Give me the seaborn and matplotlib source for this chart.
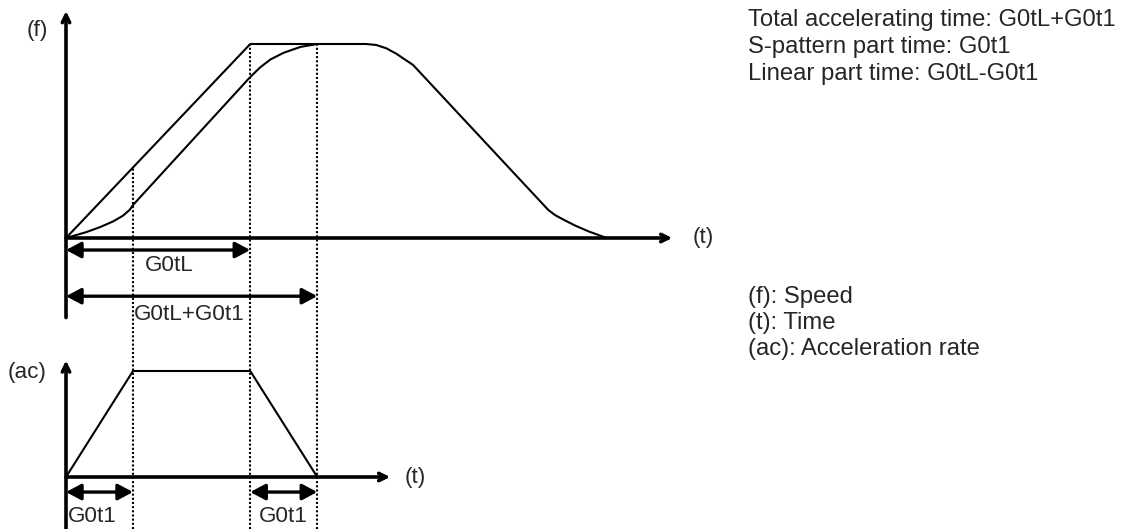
import matplotlib

matplotlib.use('Agg')
import matplotlib.pyplot as plt
import seaborn as sns

# time in units of G0t1, speed / acceleration normalised to 1
linear_t = [0.0, 2.75, 3.75]
linear_v = [0.0, 1.0, 1.0]

s_t = [0.0, 0.3, 0.5, 0.7, 0.85, 0.95, 1.0, 2.75, 2.9, 3.05, 3.25, 3.5, 3.75,
       4.48, 4.63, 4.78, 4.93, 5.08, 5.18, 7.2, 7.3, 7.45, 7.6, 7.8, 8.07]
s_v = [0.0, 0.03, 0.055, 0.085, 0.115, 0.145, 0.17, 0.83, 0.88, 0.92, 0.955, 0.985, 1.0,
       1.0, 0.995, 0.978, 0.95, 0.915, 0.892, 0.144, 0.118, 0.09, 0.064, 0.034, 0.0]

acc_t = [0.0, 1.0, 2.75, 3.75]
acc_v = [0.0, 1.0, 1.0, 0.0]

guide_t = [1.0, 2.75, 3.75]
guide_top = [0.365, 1.0, 1.0]

span_labels = ['G0tL', 'G0tL+G0t1']
span_ends = [2.75, 3.75]
s_part_spans = [(0.0, 1.0), (2.75, 3.75)]
s_part_label = 'G0t1'

notes_top = ['Total accelerating time: G0tL+G0t1',
             'S-pattern part time: G0t1',
             'Linear part time: G0tL-G0t1']
notes_bottom = ['(f): Speed', '(t): Time', '(ac): Acceleration rate']

sns.set_theme(style='white')
plt.rcParams['font.family'] = ['Liberation Sans', 'DejaVu Sans']

fig = plt.figure(figsize=(11.28, 5.29), dpi=100)
ax_f = fig.add_axes([0, 0, 1, 1])
ax_a = fig.add_axes([0, 0, 1, 1], sharex=ax_f)
for ax in (ax_f, ax_a):
    ax.set_axis_off()
    ax.patch.set_alpha(0)
ax_f.set_xlim(-66 / 67, 1062 / 67)
ax_f.set_ylim(-291 / 194, 238 / 194)
ax_a.set_ylim(-52 / 106, 477 / 106)

fs = 16.2
line_kw = dict(color='black', lw=1.5, sort=False, legend=False)
axis_kw = dict(arrowstyle='->,head_length=0.45,head_width=0.22', lw=2.6,
               color='black', shrinkA=0, shrinkB=0)
dim_kw = dict(arrowstyle='<|-|>,head_length=0.6,head_width=0.32', lw=2.4,
              color='black', shrinkA=0, shrinkB=0, mutation_scale=15)

# speed diagram
sns.lineplot(x=linear_t, y=linear_v, ax=ax_f, **line_kw)
sns.lineplot(x=s_t, y=s_v, ax=ax_f, **line_kw)
ax_f.annotate('', xy=(0, 1.17), xytext=(0, -0.41), arrowprops=axis_kw)
ax_f.annotate('', xy=(9.05, 0), xytext=(0, 0), arrowprops=axis_kw)
ax_f.text(-0.43, 1.07, '(f)', fontsize=fs, ha='center', va='center')
ax_f.text(9.35, 0, '(t)', fontsize=fs, ha='left', va='center')

ybot = ax_f.get_ylim()[0]
ax_f.vlines(guide_t, ybot, guide_top, colors='black', lw=1.5, linestyles=(0, (1, 1)))

for lab, end, y, ty, tx in zip(span_labels, span_ends, [-0.062, -0.3], [-0.14, -0.395], [1.54, 1.84]):
    ax_f.annotate('', xy=(end, y), xytext=(0, y), arrowprops=dim_kw)
    ax_f.text(tx, ty, lab, fontsize=fs, ha='center', va='center')

# acceleration diagram
sns.lineplot(x=acc_t, y=acc_v, ax=ax_a, **line_kw)
ax_a.annotate('', xy=(0, 1.1), xytext=(0, -0.5), arrowprops=axis_kw)
ax_a.annotate('', xy=(4.84, 0), xytext=(0, 0), arrowprops=axis_kw)
ax_a.text(-0.58, 0.99, '(ac)', fontsize=fs, ha='center', va='center')
ax_a.text(5.06, 0, '(t)', fontsize=fs, ha='left', va='center')
for (a, b), tx in zip(s_part_spans, [0.39, 3.24]):
    ax_a.annotate('', xy=(b, -0.142), xytext=(a, -0.142), arrowprops=dim_kw)
    ax_a.text(tx, -0.37, s_part_label, fontsize=fs, ha='center', va='center')

# notes
for i, s in enumerate(notes_top):
    fig.text(748 / 1128, 1 - (20 + 27 * i) / 529, s, fontsize=17.2, ha='left', va='center')
for i, s in enumerate(notes_bottom):
    fig.text(748 / 1128, 1 - (297 + 26 * i) / 529, s, fontsize=17.2, ha='left', va='center')

fig.savefig('out.png', dpi=100)
plt.close(fig)
